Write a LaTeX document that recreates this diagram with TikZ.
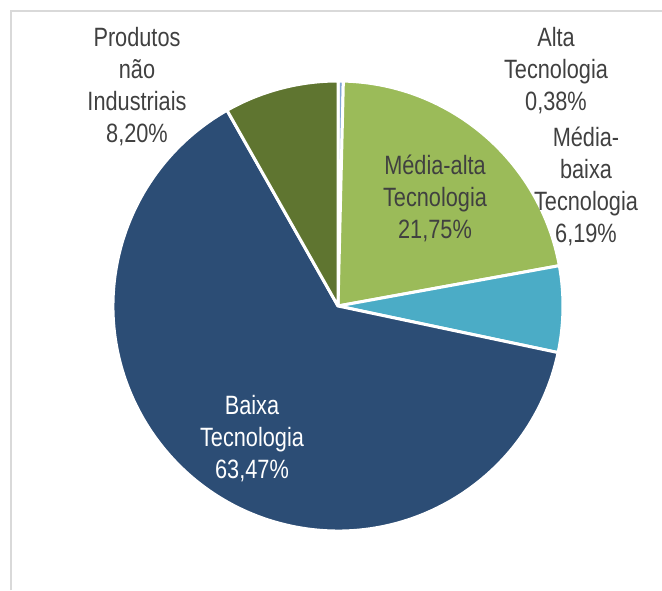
\documentclass[tikz,border=0pt]{standalone}
\usepackage{fontspec}
\setmainfont[FakeStretch=0.82]{Liberation Sans}
\definecolor{txt}{HTML}{404040}
\definecolor{cAlta}{HTML}{7FA6D6}
\definecolor{cMA}{HTML}{9BBB59}
\definecolor{cMB}{HTML}{4BACC6}
\definecolor{cB}{HTML}{2C4D75}
\definecolor{cP}{HTML}{5F7530}
\definecolor{frame}{HTML}{D9D9D9}
\begin{document}
\begin{tikzpicture}[x=1pt,y=1pt,
  slice/.style={draw=white,line width=3pt,line join=round},
  lbl/.style={align=center,inner sep=0pt,text=txt,font=\fontsize{26.5}{32}\selectfont}]
\useasboundingbox (0,0) rectangle (662,590);
\draw[frame,line width=1.5pt] (11,0) -- (11,579) -- (662,579);
\coordinate (c) at (338,284);
\def\R{225}
\filldraw[fill=cAlta,slice] (c) -- ++(90:\R) arc[start angle=90,end angle=88.632,radius=\R] -- cycle;
\filldraw[fill=cMA,slice] (c) -- ++(88.632:\R) arc[start angle=88.632,end angle=10.332,radius=\R] -- cycle;
\filldraw[fill=cMB,slice] (c) -- ++(10.332:\R) arc[start angle=10.332,end angle=-11.952,radius=\R] -- cycle;
\filldraw[fill=cB,slice] (c) -- ++(-11.952:\R) arc[start angle=-11.952,end angle=-240.444,radius=\R] -- cycle;
\filldraw[fill=cP,slice] (c) -- ++(-240.444:\R) arc[start angle=-240.444,end angle=-270,radius=\R] -- cycle;
\node[lbl] (lP) at (137,503) {Produtos\\não\\Industriais\\8,20\%};
\node[lbl] (lA) at (556,519) {Alta\\Tecnologia\\0,38\%};
\node[lbl] (lMB) at (586,404) {Média-\\baixa\\Tecnologia\\6,19\%};
\node[lbl] (lMA) at (435,392) {Média-alta\\Tecnologia\\21,75\%};
\node[lbl,text=white] (lB) at (252,151) {Baixa\\Tecnologia\\63,47\%};
\end{tikzpicture}
\end{document}
